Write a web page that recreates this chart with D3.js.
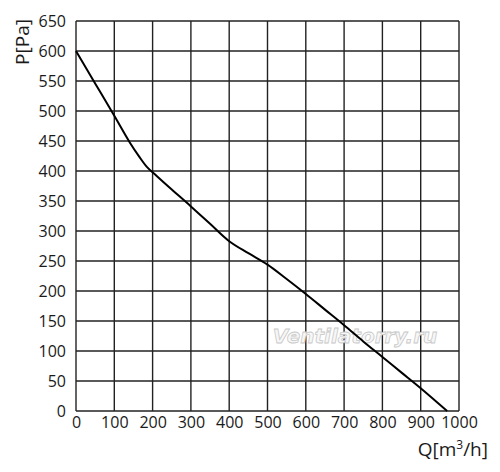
<!DOCTYPE html>
<html>
<head>
<meta charset="utf-8">
<script src="https://cdn.jsdelivr.net/npm/d3@7"></script>
<style>
  body { margin: 0; background: #fff; }
  svg text { font-family: "Open Sans", sans-serif; fill: #1a1a1a; }
</style>
</head>
<body>
<svg id="chart" width="500" height="472"></svg>
<script>
// Fan curve
const flow = [0, 50, 100, 140, 165, 185, 210, 250, 300, 350, 400, 450, 500, 550, 600, 650, 700, 750, 800, 850, 900, 969];
const pressure = [600, 546, 492, 448, 424, 407, 392, 369, 341, 312, 283, 263, 244, 220, 195, 169, 143, 116, 90, 64, 38, 0];

const xTicks = d3.range(0, 1001, 100);
const yTicks = d3.range(0, 651, 50);

const svg = d3.select('#chart');
const margin = { left: 76, top: 21, right: 41, bottom: 61 };
const width = +svg.attr('width');
const height = +svg.attr('height');

const x = d3.scaleLinear().domain([0, 1000]).range([margin.left, width - margin.right]);
const y = d3.scaleLinear().domain([0, 650]).range([height - margin.bottom, margin.top]);

//_________________ Grid
const grid = svg.append('g').attr('stroke', '#222').attr('stroke-width', 1.4);
grid.selectAll('.v').data(xTicks).enter().append('line')
  .attr('x1', d => x(d)).attr('x2', d => x(d))
  .attr('y1', y(0)).attr('y2', y(650));
grid.selectAll('.h').data(yTicks).enter().append('line')
  .attr('x1', x(0)).attr('x2', x(1000))
  .attr('y1', d => y(d)).attr('y2', d => y(d));

//_________________ Watermark
svg.append('text')
  .attr('x', 355).attr('y', 343)
  .attr('text-anchor', 'middle')
  .style('font-family', '"DejaVu Sans", sans-serif')
  .style('font-style', 'italic')
  .style('font-weight', 'bold')
  .style('font-size', '20px')
  .style('fill', '#f7f7f7')
  .style('stroke', '#c8c8c8')
  .style('stroke-width', 0.8)
  .text('Ventilatorry.ru');

//_________________ Axes
const yAxis = svg.append('g')
  .attr('transform', `translate(${x(0)},0)`)
  .call(d3.axisLeft(y).tickValues(yTicks).tickSize(0).tickPadding(10));
const xAxis = svg.append('g')
  .attr('transform', `translate(0,${y(0)})`)
  .call(d3.axisBottom(x).tickValues(xTicks).tickFormat(d3.format('d')).tickSize(0).tickPadding(6));
[yAxis, xAxis].forEach(a => {
  a.select('.domain').remove();
  a.selectAll('text').style('font-size', '16px').style('font-family', '"Open Sans", sans-serif').attr('fill', '#1a1a1a');
});

//_________________ Curve
const line = d3.line()
  .x((d, i) => x(flow[i]))
  .y(d => y(d))
  .curve(d3.curveCatmullRom.alpha(0.5));
svg.append('path')
  .datum(pressure)
  .attr('fill', 'none')
  .attr('stroke', '#000')
  .attr('stroke-width', 2)
  .attr('d', line);

//_________________ Axis titles
svg.append('text')
  .attr('transform', 'translate(29,42) rotate(-90)')
  .attr('text-anchor', 'middle')
  .style('font-size', '19px')
  .text('P[Pa]');

const qLabel = svg.append('text')
  .attr('x', 488).attr('y', 456)
  .attr('text-anchor', 'end')
  .style('font-size', '19px');
qLabel.append('tspan').text('Q[m');
qLabel.append('tspan').attr('dy', -7).style('font-size', '12px').text('3');
qLabel.append('tspan').attr('dy', 7).text('/h]');
</script>
</body>
</html>
